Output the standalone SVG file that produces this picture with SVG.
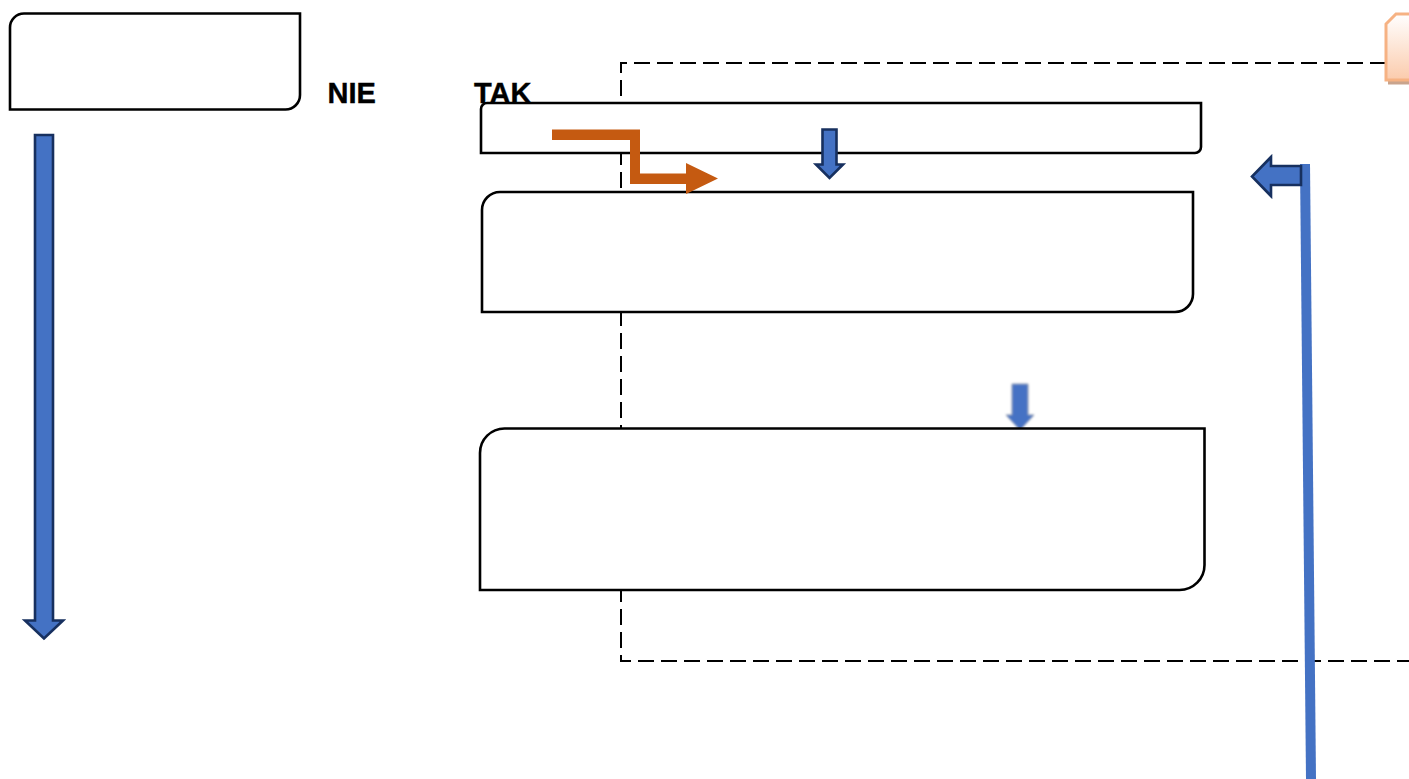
<svg xmlns="http://www.w3.org/2000/svg" width="1409" height="779" viewBox="0 0 1409 779">
<defs>
<linearGradient id="peach" x1="0" y1="0" x2="0" y2="1"><stop offset="0" stop-color="#ffffff"/><stop offset="1" stop-color="#fbcbac"/></linearGradient>
<filter id="soft" x="-30%" y="-10%" width="160%" height="120%"><feGaussianBlur stdDeviation="0.8"/></filter>
</defs>
<style>
.box{fill:#fff;stroke:#000;stroke-width:2.6}
.label{font-family:"Liberation Sans",Arial,sans-serif;font-weight:700;font-size:29px;fill:#000;stroke:#000;stroke-width:0.4}
.arrow{fill:#4472c4;stroke:#17305f;stroke-width:2.6}
.dash{fill:none;stroke:#000;stroke-width:2;stroke-dasharray:16 7}
</style>
<rect width="1409" height="779" fill="#fff"/>
<g id="dashed-frame"><path class="dash" d="M1409 63H621V661H1409"/></g>
<g id="corner-node">
<rect x="1388" y="20" width="30" height="64.500" fill="#c9a48d"/>
<path d="M1386 24L1396 14H1420V80H1386Z" fill="url(#peach)" stroke="#f6b283" stroke-width="3"/>
</g>
<g id="label-nie"><text class="label" x="327.500" y="103">NIE</text></g>
<g id="label-tak"><text class="label" x="474" y="103">TAK</text></g>
<g id="node-top-left"><path class="box" d="M24 13.500H300V95A14.500 14.500 0 0 1 285.500 109.500H10V27.500A14 14 0 0 1 24 13.500Z"/></g>
<g id="connectors">
<path class="arrow" d="M35 135H53V620.500H63L44 638.500L25 620.500H35Z"/>
<path d="M1012 384H1028V415H1034L1020 430L1006 415H1012Z" fill="#4472c4" stroke="#8a97ad" stroke-width="1" filter="url(#soft)"/>
</g>
<g id="node-bar"><path class="box" d="M487 103H1201V147A6 6 0 0 1 1195 153H481V109A6 6 0 0 1 487 103Z"/></g>
<g id="node-middle"><path class="box" d="M500 192H1193V294A18 18 0 0 1 1175 312H482V210A18 18 0 0 1 500 192Z"/></g>
<g id="node-bottom"><path class="box" d="M504.500 428.500H1204.500V565A25 25 0 0 1 1179.500 590H480V453A24.500 24.500 0 0 1 504.500 428.500Z"/></g>
<g id="connectors-top">
<path d="M552 129.500H640V173.500H686V163L718 178.500L686 194V184H630V140H552Z" fill="#c55a11"/>
<path class="arrow" d="M822.500 129.500H836.500V164.500H843L829.500 178L816 164.500H822.500Z"/>
<path d="M1300 164H1310L1316 779H1306Z" fill="#4472c4"/>
<path class="arrow" d="M1301 166V185H1271V196L1252 176.500L1271 157V166Z"/>
</g>
</svg>
